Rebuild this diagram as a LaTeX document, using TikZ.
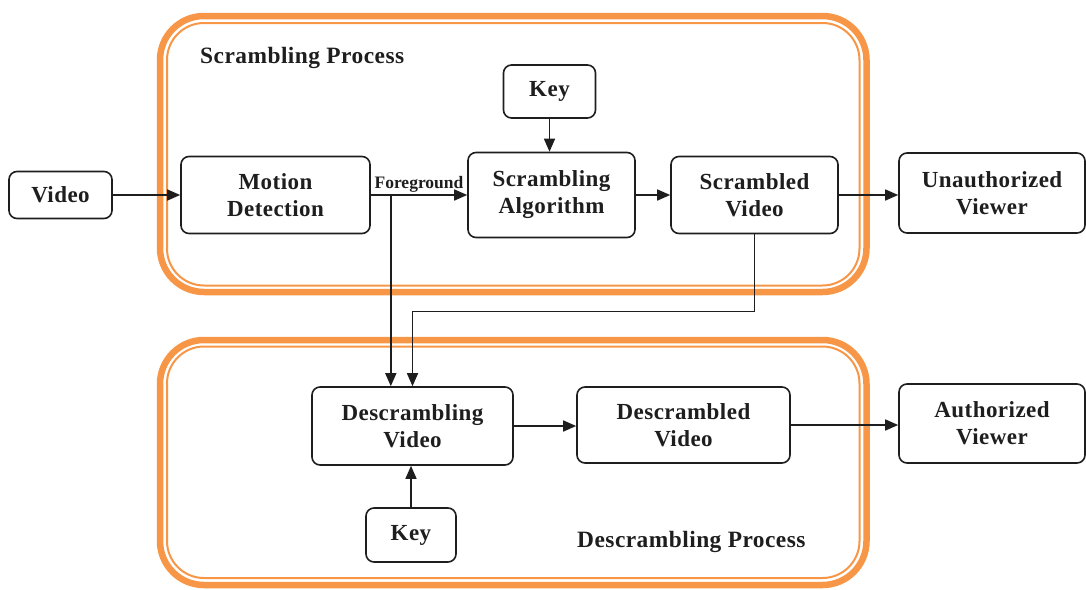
\documentclass[tikz,border=0pt]{standalone}
\usepackage{fontspec}
\setmainfont{Liberation Serif}[LetterSpace=2.0]
\newfontfamily\labelfont{Liberation Serif}
\usetikzlibrary{arrows.meta,calc}
\definecolor{frameorange}{HTML}{F79646}
\definecolor{ink}{HTML}{1E1E1E}
\tikzset{
  blockbox/.style={draw=ink, line width=1.6pt, rounded corners=8pt, fill=white,
    align=center, inner sep=0pt, text=ink,
    font=\bfseries\fontsize{23}{27}\selectfont},
  flow/.style={draw=ink, line width=1.5pt,
    -{Triangle[length=13pt,width=11pt]}},
  framethick/.style={draw=frameorange, line width=6.5pt, rounded corners=44pt},
  framethin/.style={draw=frameorange, line width=2pt, rounded corners=37pt},
  title/.style={font=\bfseries\fontsize{23.4}{27}\selectfont, text=ink, inner sep=0pt}
}
\begin{document}
\begin{tikzpicture}[x=1pt,y=-1pt]
\useasboundingbox (0,0) rectangle (1086,589);

% process frames (double orange outlines)
\draw[framethick] (160,16) rectangle (866.5,292);
\draw[framethin]  (167,23) rectangle (859.5,285.5);
\draw[framethick] (160,340) rectangle (866.5,585);
\draw[framethin]  (167,346.5) rectangle (859.5,578);

\node[title, anchor=west] (sptitle) at (200,57.5) {Scrambling Process};
\node[title, anchor=west] (dptitle) at (577,542) {Descrambling Process};

% blocks
\node[blockbox, minimum width=103pt, minimum height=47pt] (video) at (60.5,195) {Video};
\node[blockbox, minimum width=189pt, minimum height=77pt] (motion) at (275.5,195) {Motion\\Detection};
\node[blockbox, minimum width=167pt, minimum height=85pt] (alg) at (551.5,195) {Scrambling\\Algorithm};
\node[blockbox, minimum width=92pt, minimum height=53pt] (keyA) at (549.5,91.5) {Key};
\node[blockbox, minimum width=167pt, minimum height=77pt] (scrv) at (754.5,195) {Scrambled\\Video};
\node[blockbox, minimum width=186pt, minimum height=80pt] (unauth) at (992,193) {Unauthorized\\Viewer};
\node[blockbox, minimum width=201pt, minimum height=78pt] (descr) at (412.5,426) {Descrambling\\Video};
\node[blockbox, minimum width=213pt, minimum height=76pt] (dscd) at (683.5,425) {Descrambled\\Video};
\node[blockbox, minimum width=186pt, minimum height=79pt] (auth) at (992,423.5) {Authorized\\Viewer};
\node[blockbox, minimum width=90pt, minimum height=54pt] (keyB) at (411,535) {Key};

% connectors
\draw[flow] (video.east) -- (motion.west);
\draw[flow] (motion.east) -- node[above=1.5pt, inner sep=0pt, text=ink,
  font=\labelfont\bfseries\fontsize{17.5}{20}\selectfont] (fglabel) {Foreground} (alg.west);
\coordinate (fgtap) at ($(motion.east)+(20,0)$);
\draw[flow] (fgtap) -- (fgtap |- descr.north);
\draw[flow] (keyA.south) -- (keyA.south |- alg.north);
\draw[flow] (alg.east) -- (scrv.west);
\draw[flow] (scrv.east) -- (scrv.east -| unauth.west);
\coordinate (sbend) at ($(scrv.south)+(0,77)$);
\draw[flow] (scrv.south) -- (sbend) -| (descr.north);
\draw[flow] (descr.east) -- (descr.east -| dscd.west);
\draw[flow] (dscd.east) -- (dscd.east -| auth.west);
\draw[flow] (keyB.north) -- (keyB.north |- descr.south);
\end{tikzpicture}
\end{document}
